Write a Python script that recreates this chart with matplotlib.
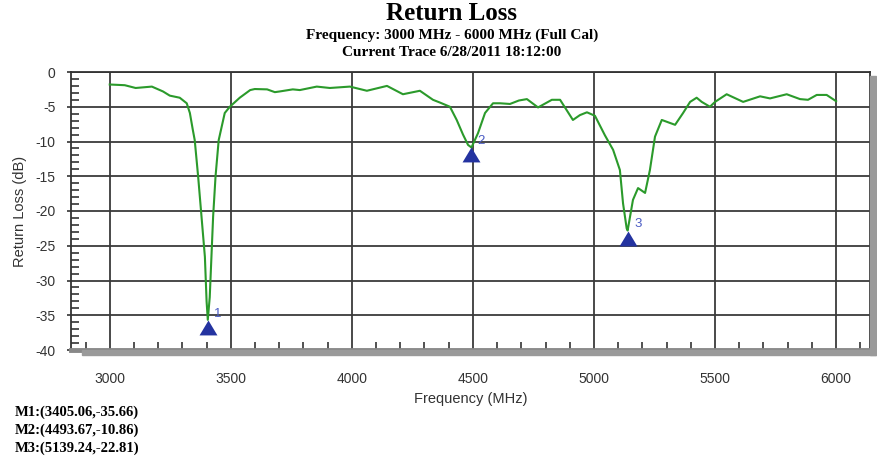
import matplotlib
matplotlib.use("Agg")
import matplotlib.pyplot as plt
from matplotlib.patches import Rectangle
from matplotlib.ticker import MultipleLocator

plt.rcParams["axes.unicode_minus"] = False

# ---- data ----
freq_mhz = [3000, 3062, 3107, 3174, 3220, 3248, 3289, 3318, 3331, 3343, 3351, 3365,
            3379, 3393, 3400, 3405, 3413, 3420, 3427, 3437, 3450, 3475, 3496, 3537,
            3580, 3599, 3650, 3682, 3702, 3756, 3785, 3855, 3909, 3992, 4062, 4145,
            4211, 4281, 4335, 4364, 4405, 4433, 4459, 4480, 4494, 4521, 4550, 4583,
            4612, 4653, 4690, 4723, 4769, 4826, 4860, 4913, 4942, 4971, 5004, 5045,
            5079, 5107, 5120, 5135, 5139, 5149, 5161, 5182, 5211, 5231, 5252, 5280,
            5335, 5368, 5397, 5424, 5445, 5479, 5500, 5548, 5616, 5686, 5727, 5796,
            5851, 5884, 5920, 5961, 6000]
return_loss_db = [-1.8, -1.9, -2.3, -2.1, -2.8, -3.4, -3.7, -4.5, -5.9, -8.3, -9.8, -15.0,
                  -20.8, -26.6, -33.0, -35.66, -32.4, -26.6, -20.8, -15.0, -9.8, -5.9, -5.0, -3.7,
                  -2.6, -2.45, -2.5, -2.9, -2.8, -2.5, -2.6, -2.1, -2.3, -2.1, -2.7, -2.0,
                  -3.2, -2.7, -4.0, -4.4, -5.0, -6.9, -9.0, -10.5, -10.86, -8.8, -5.9, -4.5,
                  -4.5, -4.6, -4.1, -3.9, -5.1, -4.0, -4.0, -6.9, -6.2, -5.8, -6.3, -9.1,
                  -11.2, -14.1, -18.9, -22.5, -22.81, -20.8, -18.4, -16.7, -17.4, -14.1, -9.3, -6.9,
                  -7.6, -5.9, -4.3, -3.7, -4.3, -5.0, -4.3, -3.2, -4.3, -3.5, -3.8, -3.2,
                  -3.9, -4.0, -3.3, -3.3, -4.2]

marker_names = ["1", "2", "3"]
marker_freq = [3405.06, 4493.67, 5139.24]
marker_db = [-35.66, -10.86, -22.81]

xticks = [3000, 3500, 4000, 4500, 5000, 5500, 6000]
yticks = [0, -5, -10, -15, -20, -25, -30, -35, -40]

# ---- figure ----
W, H = 878, 462
fig = plt.figure(figsize=(W / 100, H / 100), dpi=100)

def fx(px):
    return px / W

def fy(py):
    return 1 - py / H

ax_l, ax_r, ax_t, ax_b = 71, 870, 72, 350
# shadow
fig.patches.append(Rectangle((fx(ax_r), fy(ax_b + 5)), fx(6), (ax_b + 5 - 76) / H,
                             transform=fig.transFigure, color="#9a9a9a", zorder=0))
fig.patches.append(Rectangle((fx(82), fy(ax_b + 5)), fx(ax_r + 6 - 82), 5 / H,
                             transform=fig.transFigure, color="#9a9a9a", zorder=0))

ax = fig.add_axes([fx(ax_l), fy(ax_b), fx(ax_r - ax_l), (ax_b - ax_t) / H])
ax.set_xlim(2840, 6140)
ax.set_ylim(-40, 0)

ax.plot(freq_mhz, return_loss_db, color="#2b9a2b", lw=1.5, zorder=3)

# markers
tri = [(0, 0), (-0.6, -1), (0.6, -1), (0, 0)]
for name, f, d in zip(marker_names, marker_freq, marker_db):
    ax.plot([f], [d], marker=tri, markersize=21.5, color="#2433a0",
            markeredgewidth=0, zorder=4, linestyle="none")
    ax.annotate(name, (f, d), xytext=(7.2, 4.5), textcoords="offset points",
                ha="center", va="center", color="#4b5cc4", fontsize=9.5,
                family="Liberation Sans", zorder=5)

ax.set_xticks(xticks)
ax.set_yticks(yticks)
ax.xaxis.set_minor_locator(MultipleLocator(100))
ax.yaxis.set_minor_locator(MultipleLocator(1))
ax.grid(True, which="major", color="#3a3a3a", lw=1.3)
ax.tick_params(axis="x", which="minor", direction="in", length=6, width=1.2, color="#333333")
ax.tick_params(axis="y", which="minor", direction="in", length=6, width=1.2, color="#333333")
ax.tick_params(axis="x", which="major", direction="out", length=3, width=1.2, pad=13,
               labelsize=10, labelcolor="#333333", color="#333333")
ax.tick_params(axis="y", which="major", direction="out", length=3, width=1.2, pad=8,
               labelsize=10, labelcolor="#333333", color="#333333")
for lab in ax.get_xticklabels() + ax.get_yticklabels():
    lab.set_family("Liberation Sans")

for s in ["left", "top", "right"]:
    ax.spines[s].set_color("#333333")
    ax.spines[s].set_linewidth(1.3)
ax.spines["bottom"].set_color("#888888")
ax.spines["bottom"].set_linewidth(3.5)

ax.set_xlabel("Frequency (MHz)", family="Liberation Sans", fontsize=10.5, color="#333333", labelpad=4)
ax.set_ylabel("Return Loss (dB)", family="Liberation Sans", fontsize=10.5, color="#333333", labelpad=6)

# titles
fig.text(fx(452), fy(14), "Return Loss", ha="center", va="center",
         family="Liberation Serif", weight="bold", fontsize=18)
fig.text(fx(452), fy(35), "Frequency: 3000 MHz - 6000 MHz (Full Cal)", ha="center", va="center",
         family="Liberation Serif", weight="bold", fontsize=11)
fig.text(fx(452), fy(53), "Current Trace 6/28/2011 18:12:00", ha="center", va="center",
         family="Liberation Serif", weight="bold", fontsize=11)

# marker readouts
for i, (f, d) in enumerate(zip(marker_freq, marker_db)):
    fig.text(fx(15), fy(412 + 18 * i), f"M{i + 1}:({f:.2f},{d:.2f})", ha="left", va="center",
             family="Liberation Serif", weight="bold", fontsize=10.5)

fig.savefig("out.png", dpi=100)
